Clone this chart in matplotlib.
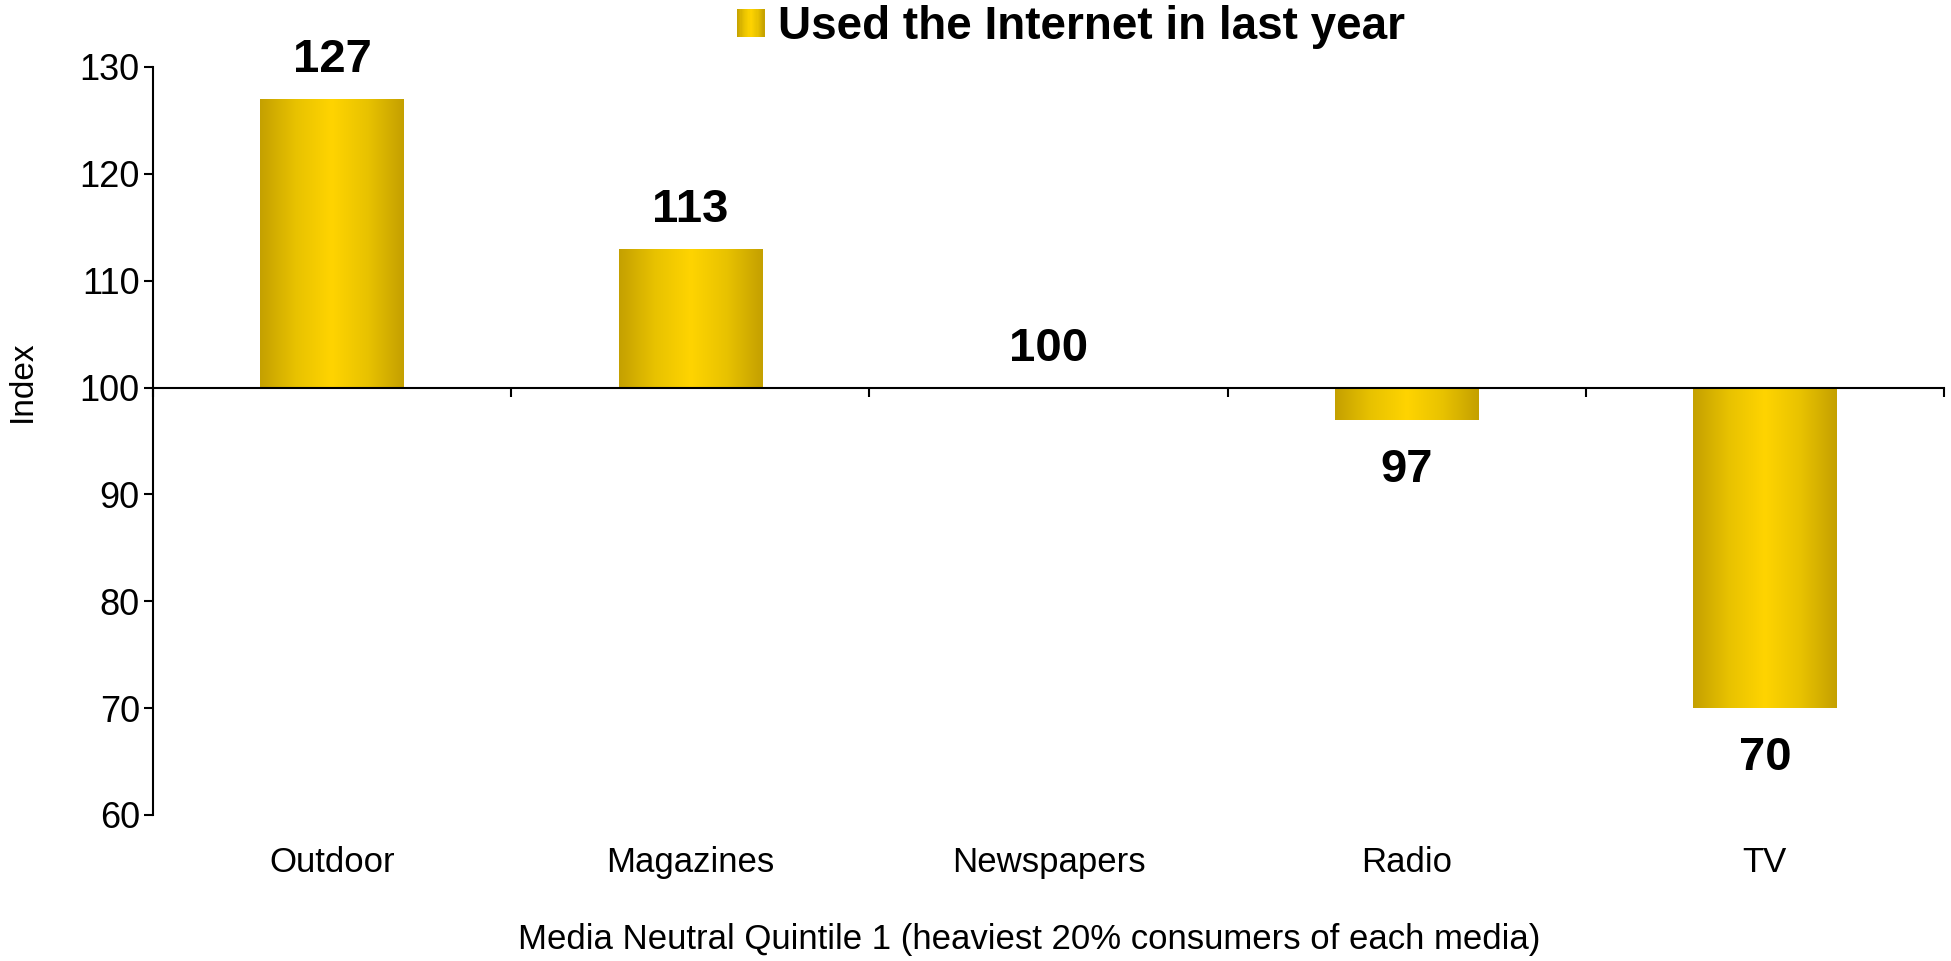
import matplotlib

matplotlib.use("Agg")

import matplotlib.pyplot as plt
import numpy as np
from matplotlib.colors import LinearSegmentedColormap
from matplotlib.legend_handler import HandlerBase
from matplotlib.patches import Patch, Rectangle
from matplotlib.transforms import blended_transform_factory

plt.rcParams["font.family"] = ["Liberation Sans", "DejaVu Sans"]

categories = ["Outdoor", "Magazines", "Newspapers", "Radio", "TV"]
index_values = [127, 113, 100, 97, 70]
series_name = "Used the Internet in last year"
baseline = 100
y_ticks = [60, 70, 80, 90, 100, 110, 120, 130]

GOLD = LinearSegmentedColormap.from_list(
    "gold", ["#C4A000", "#E8C200", "#FFD400", "#E8C200", "#C4A000"]
)
GRADIENT = np.linspace(0, 1, 256).reshape(1, -1)


class GradientHandler(HandlerBase):
    """Legend key drawn as a row of thin strips shading gold to yellow to gold."""

    def create_artists(self, legend, orig_handle, xdescent, ydescent,
                       width, height, fontsize, trans):
        side = width
        x0 = -xdescent
        y0 = -ydescent + (height - side) / 2
        n = 24
        strips = []
        for i in range(n):
            strips.append(Rectangle(
                (x0 + side * i / n, y0), side / n * 1.05, side,
                facecolor=GOLD((i + 0.5) / n), edgecolor="none",
                transform=trans,
            ))
        return strips


fig = plt.figure(figsize=(19.51, 9.61), dpi=100)
ax = fig.add_axes([0.0784, 0.152, 0.918, 0.7783])

x = np.arange(len(categories))
heights = [v - baseline for v in index_values]
bars = ax.bar(x, heights, width=0.4, bottom=baseline,
              facecolor="none", edgecolor="none")

for bar in bars:
    x0, y0 = bar.get_x(), bar.get_y()
    w, h = bar.get_width(), bar.get_height()
    if h == 0:
        continue
    ax.imshow(GRADIENT, cmap=GOLD, aspect="auto", interpolation="bicubic",
              extent=(x0, x0 + w, min(y0, y0 + h), max(y0, y0 + h)), zorder=2)

for xi, v in zip(x, index_values):
    above = v >= baseline
    ax.annotate(str(v), (xi, v), xytext=(0, 28 if above else -36),
                textcoords="offset points", ha="center", va="center",
                fontsize=34, fontweight="bold", color="black")

ax.set_xlim(-0.5, len(categories) - 0.5)
ax.set_ylim(min(y_ticks), max(y_ticks))
ax.set_yticks(y_ticks)
ax.tick_params(axis="y", direction="out", length=6.5, width=1.5,
               pad=3, labelsize=26)

ax.spines["top"].set_visible(False)
ax.spines["right"].set_visible(False)
ax.spines["left"].set_linewidth(1.5)
ax.spines["bottom"].set_linewidth(1.5)
ax.spines["bottom"].set_position(("data", baseline))
ax.spines["bottom"].set_zorder(3)

boundaries = np.arange(len(categories) + 1) - 0.5
ax.set_xticks(boundaries)
ax.set_xticklabels([])
ax.tick_params(axis="x", direction="out", length=6.5, width=1.5)

label_trans = blended_transform_factory(ax.transData, ax.transAxes)
for xi, name in zip(x, categories):
    ax.text(xi, -0.064, name, transform=label_trans, ha="center",
            va="center", fontsize=25)

ax.text(0.489, -0.166, "Media Neutral Quintile 1 (heaviest 20% consumers of each media)",
        transform=ax.transAxes, ha="center", va="center", fontsize=25)
ax.set_ylabel("Index", fontsize=24)
ax.yaxis.set_label_coords(-0.064, 0.58)

fig.legend([Patch()], [series_name], handler_map={Patch: GradientHandler()},
           loc="center", bbox_to_anchor=(0.549, 0.972), frameon=False,
           prop={"size": 33, "weight": "bold"}, handlelength=0.6,
           handletextpad=0.3)

fig.savefig("out.png", dpi=100)
